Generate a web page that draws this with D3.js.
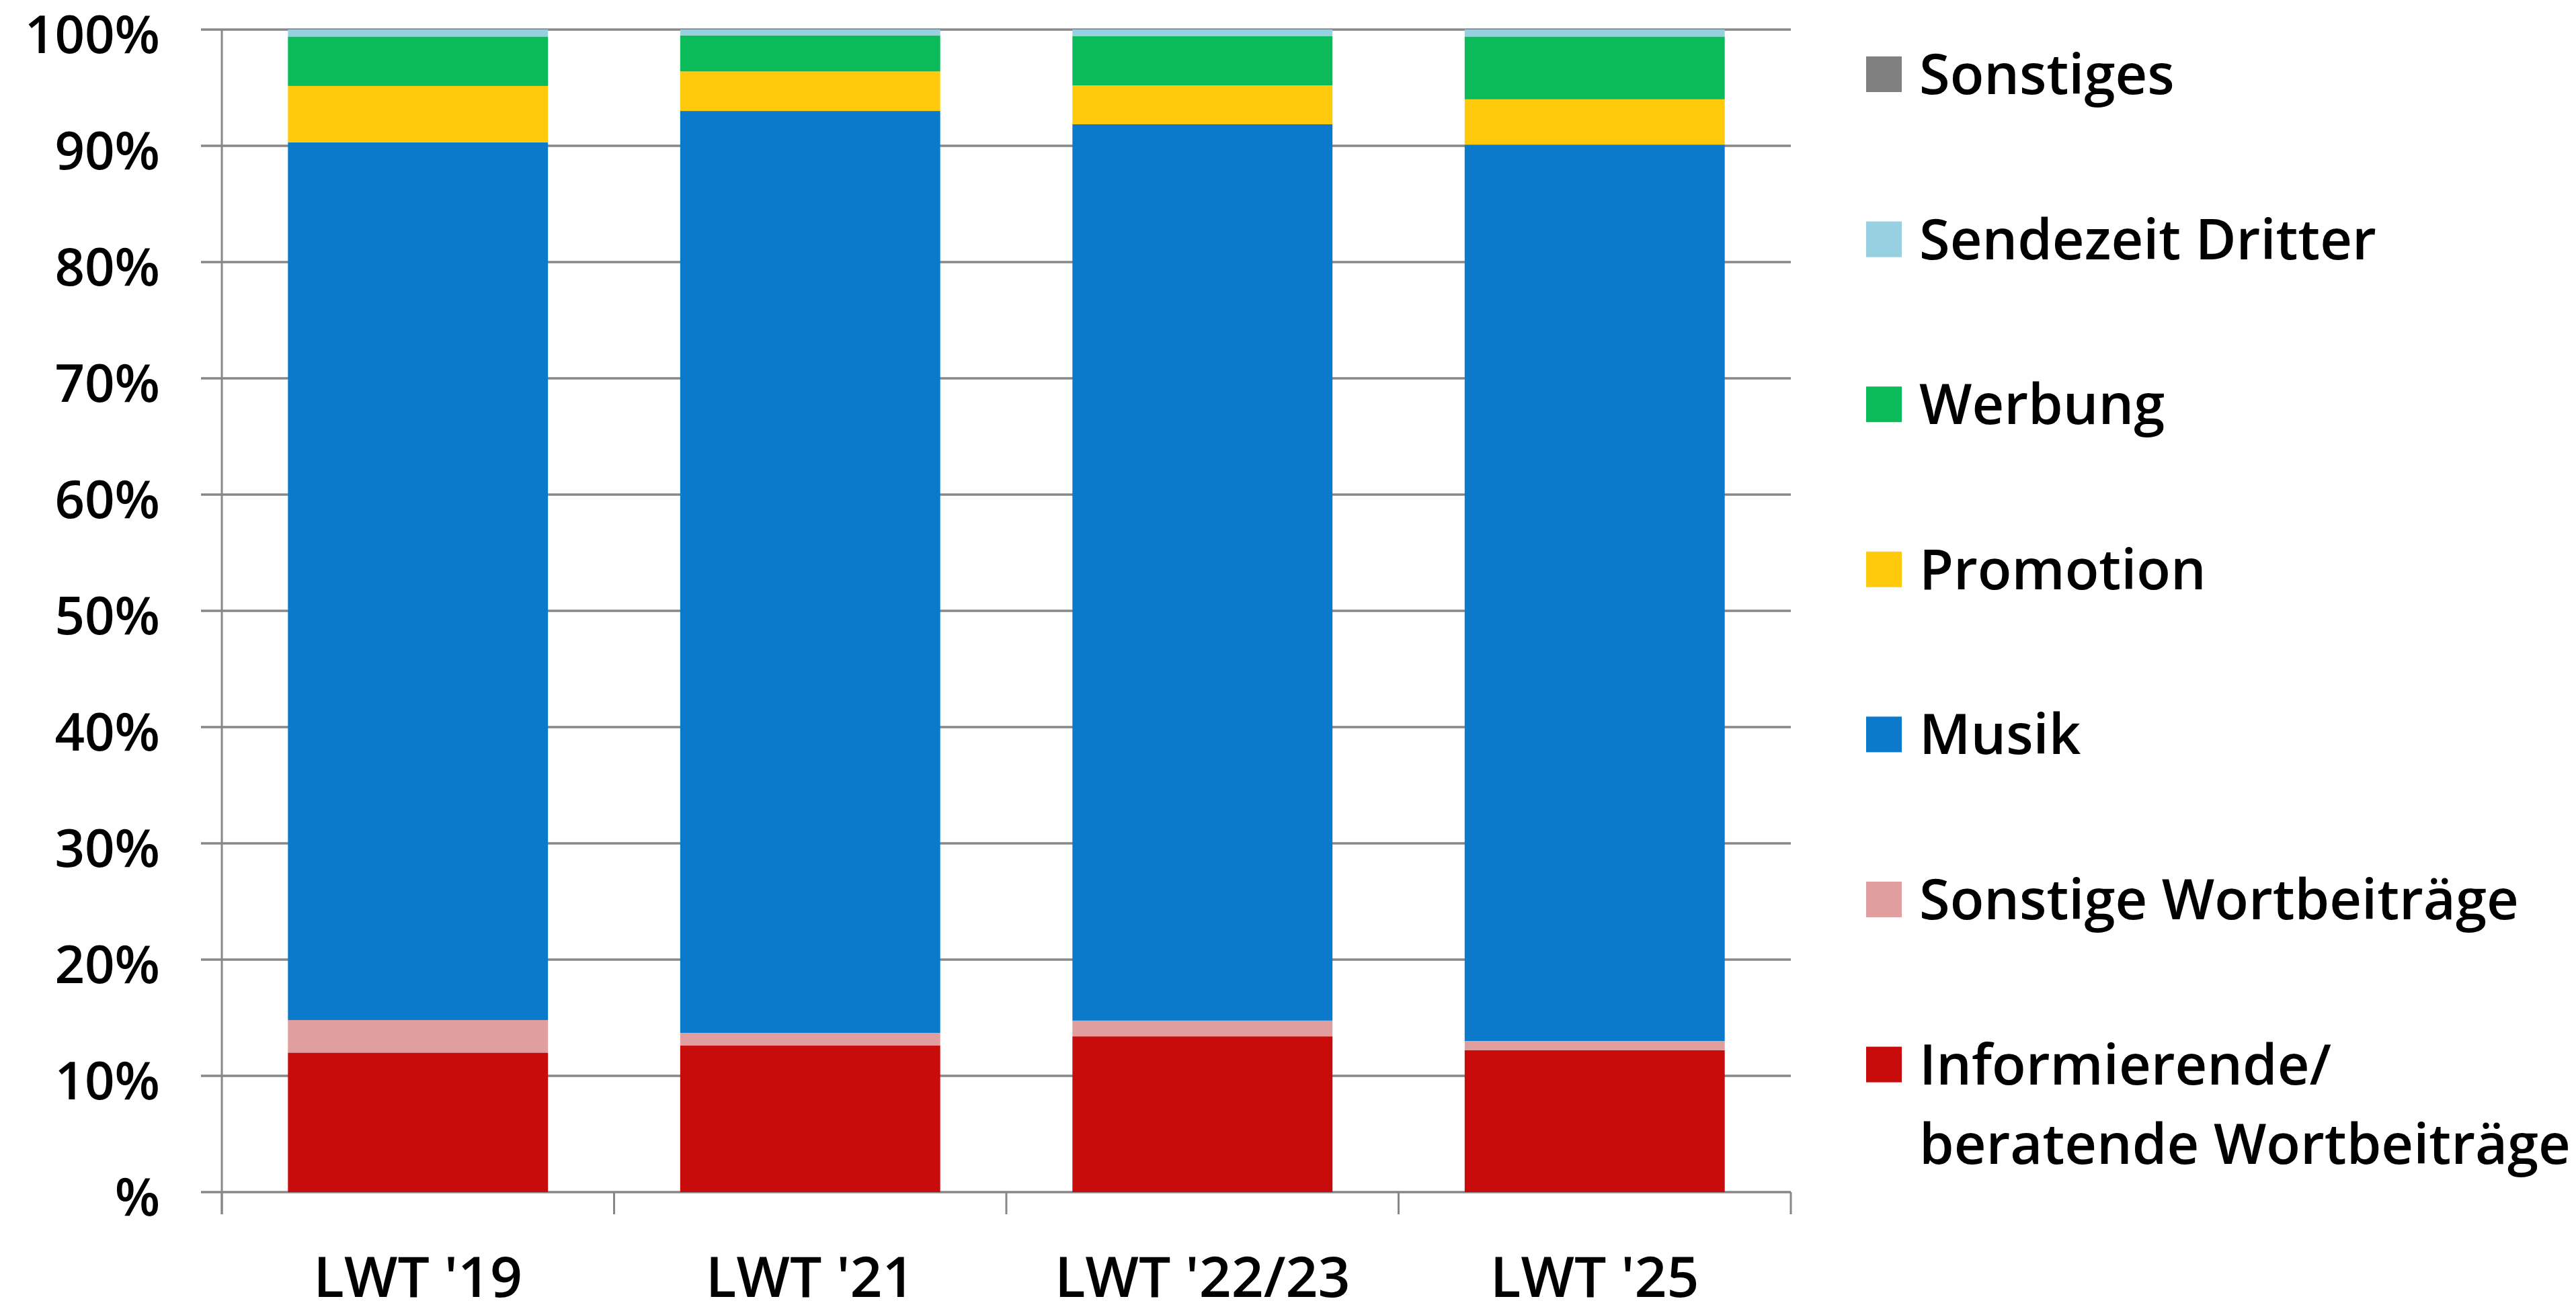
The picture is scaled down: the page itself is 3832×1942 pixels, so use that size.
<!DOCTYPE html>
<html>
<head>
<meta charset="utf-8">
<script src="https://cdn.jsdelivr.net/npm/d3@7"></script>
<style>
  html, body { margin: 0; padding: 0; background: #fff; }
  svg text { font-family: "Open Sans", "Noto Sans", sans-serif; font-weight: 600; fill: #000; }
</style>
</head>
<body>
<svg id="chart" width="3832" height="1942"></svg>
<script>
// ---- data ----
const categories = ["LWT '19", "LWT '21", "LWT '22/23", "LWT '25"];
const seriesNames = ["Informierende/ beratende Wortbeiträge", "Sonstige Wortbeiträge", "Musik", "Promotion", "Werbung", "Sendezeit Dritter", "Sonstiges"];
const informierende = [12.0, 12.6, 13.4, 12.2];
const sonstigeWort  = [2.8, 1.1, 1.35, 0.8];
const musik         = [75.5, 79.3, 77.1, 77.1];
const promotion     = [4.85, 3.4, 3.35, 3.9];
const werbung       = [4.25, 3.1, 4.25, 5.4];
const sendezeit     = [0.6, 0.5, 0.55, 0.6];
const sonstiges     = [0, 0, 0, 0];
const yTicks = [0, 10, 20, 30, 40, 50, 60, 70, 80, 90, 100];
const yTickLabels = ["%", "10%", "20%", "30%", "40%", "50%", "60%", "70%", "80%", "90%", "100%"];
const colors = ["#C80C0C", "#E09E9E", "#0B7ACA", "#FECA0B", "#0BBA58", "#97D0E1", "#808080"];
const legendOrder = ["Sonstiges", "Sendezeit Dritter", "Werbung", "Promotion", "Musik", "Sonstige Wortbeiträge", "Informierende/ beratende Wortbeiträge"];

// ---- build table ----
const seriesValues = [informierende, sonstigeWort, musik, promotion, werbung, sendezeit, sonstiges];
const table = categories.map((c, i) => {
  const row = { cat: c };
  seriesNames.forEach((s, j) => row[s] = seriesValues[j][i]);
  return row;
});
const stacked = d3.stack().keys(seriesNames)(table);
const color = d3.scaleOrdinal().domain(seriesNames).range(colors);

// ---- layout ----
const plotLeft = 330, plotRight = 2664, plotTop = 44, plotBottom = 1774;
const svg = d3.select("#chart");
const x = d3.scaleBand().domain(categories).range([plotLeft, plotRight]).paddingInner(0.337).paddingOuter(0.1685);
const y = d3.scaleLinear().domain([0, 100]).range([plotBottom, plotTop]);
const gridColor = "#878787";

// gridlines
svg.append("g").selectAll("line").data(yTicks).join("line")
  .attr("x1", plotLeft - 31).attr("x2", plotRight)
  .attr("y1", d => y(d)).attr("y2", d => y(d))
  .attr("stroke", gridColor).attr("stroke-width", 3.5);

// bars
svg.append("g").selectAll("g").data(stacked).join("g")
  .attr("fill", d => color(d.key))
  .selectAll("rect").data(d => d).join("rect")
  .attr("x", d => x(d.data.cat))
  .attr("width", x.bandwidth())
  .attr("y", d => y(d[1]))
  .attr("height", d => Math.max(0, y(d[0]) - y(d[1])));

// y axis line
svg.append("line").attr("x1", plotLeft).attr("x2", plotLeft).attr("y1", plotTop).attr("y2", plotBottom + 33)
  .attr("stroke", gridColor).attr("stroke-width", 3);

// x category boundary ticks
const bounds = d3.range(categories.length + 1).map(i => plotLeft + i * (plotRight - plotLeft) / categories.length);
svg.append("g").selectAll("line").data(bounds).join("line")
  .attr("x1", d => d).attr("x2", d => d)
  .attr("y1", plotBottom).attr("y2", plotBottom + 33)
  .attr("stroke", gridColor).attr("stroke-width", 3);

// y labels
svg.append("g").selectAll("text").data(yTicks).join("text")
  .attr("x", 238).attr("y", (d) => y(d) + 35)
  .attr("text-anchor", "end").attr("font-size", 78)
  .text((d, i) => yTickLabels[i]);

// x labels
svg.append("g").selectAll("text").data(categories).join("text")
  .attr("x", d => x(d) + x.bandwidth() / 2).attr("y", 1930)
  .attr("text-anchor", "middle").attr("font-size", 84)
  .text(d => d);

// legend
const legendY0 = 110, legendStep = 245.6;
const lg = svg.append("g").selectAll("g").data(legendOrder).join("g")
  .attr("transform", (d, i) => `translate(2776, ${legendY0 + i * legendStep})`);
lg.append("rect").attr("x", 0).attr("y", -26).attr("width", 53).attr("height", 53)
  .attr("fill", d => color(d));
const lt = lg.append("text").attr("x", 79).attr("y", 30).attr("font-size", 83);
lt.each(function(d) {
  const t = d3.select(this);
  if (d.indexOf("/ ") >= 0) {
    const parts = d.split("/ ");
    t.append("tspan").attr("x", 79).attr("dy", 0).text(parts[0] + "/");
    t.append("tspan").attr("x", 79).attr("dy", 118).text(parts[1]);
  } else {
    t.text(d);
  }
});
</script>
</body>
</html>
